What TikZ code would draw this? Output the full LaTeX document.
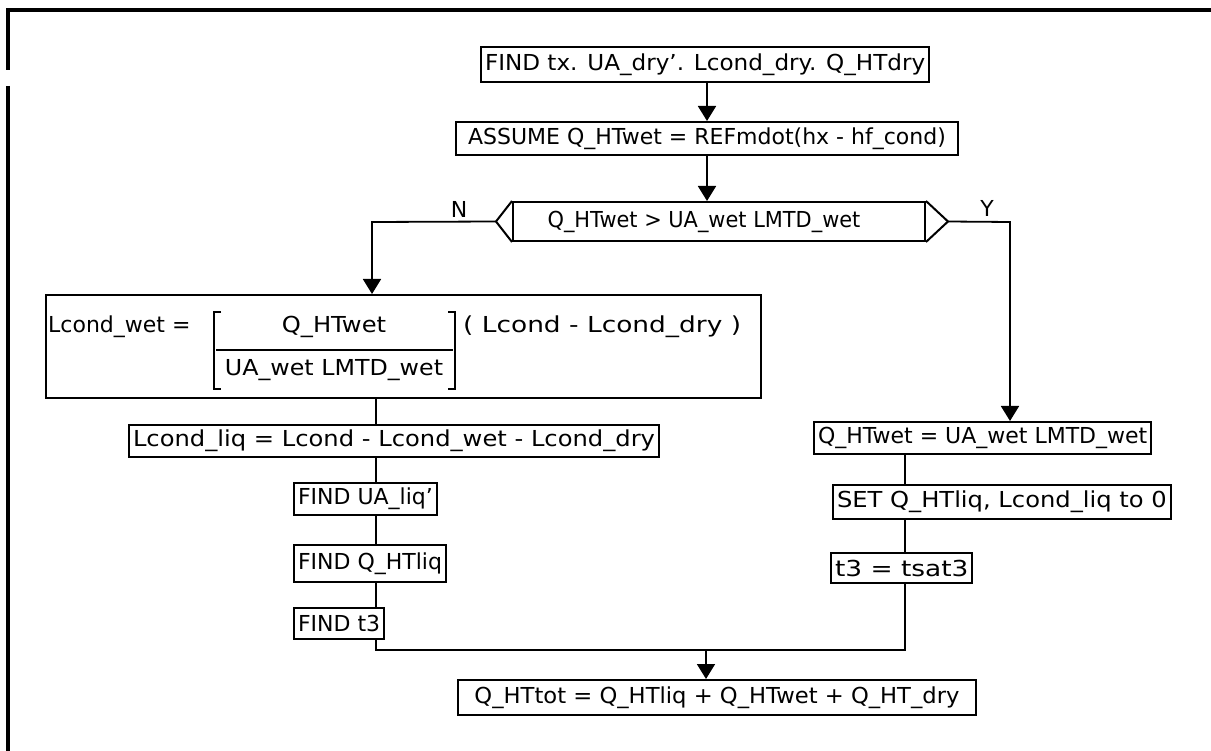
\documentclass[tikz,border=0pt]{standalone}
\usepackage{graphicx}
\usepackage{fontspec}
\setmainfont{DejaVu Sans}
\usetikzlibrary{arrows.meta}
\newcommand{\hsc}[2]{\scalebox{#1}[1]{#2}}
\tikzset{
  txt/.style={font=\fontsize{22}{24}\selectfont},
  box/.style={draw, line width=2pt, inner xsep=4pt, inner ysep=0pt, minimum height=32pt, txt},
  flow/.style={line width=1.8pt},
  arr/.style={flow, -{Triangle[width=18pt,length=15pt]}},
  lbl/.style={txt, inner sep=0pt}
}
\begin{document}
\begin{tikzpicture}[x=1pt,y=-1pt]
\useasboundingbox (0,0) rectangle (1211,751);
% frame
\draw[line width=3.5pt] (1211,10) -- (8,10) -- (8,70);
\draw[line width=3.5pt] (8,86) -- (8,751);

% top boxes
\node[box, anchor=west, minimum height=35pt] (b1) at (480,64.5) {\hsc{1.05}{FIND tx. UA\_dry'. Lcond\_dry. Q\_HTdry}};
\node[box, anchor=west, minimum width=502pt, minimum height=33pt] (b2) at (455,138.5) {ASSUME Q\_HTwet = REFmdot(hx - hf\_cond)};
\node[draw, line width=2pt, minimum width=412pt, minimum height=39pt, inner sep=0pt] (dec) at (719,221.5) {};
\node[lbl] (dectxt) at (704,222) {\hsc{0.95}{Q\_HTwet > UA\_wet LMTD\_wet}};
\coordinate (decL) at ([xshift=-16pt]dec.west);
\coordinate (decR) at ([xshift=22pt]dec.east);
\draw[line width=2pt] (dec.north west) -- (decL) -- (dec.south west);
\draw[line width=2pt] (dec.north east) -- (decR) -- (dec.south east);

\draw[arr] (b2.north |- b1.south) -- (b2.north);
\draw[arr] (b2.south) -- (b2.south |- dec.north);

% N branch
\coordinate (nTurn) at (372,222);
\node[lbl] (nlab) at (459,209) {N};
% box 3
\node[box, anchor=west, minimum width=715pt, minimum height=103pt] (b3) at (45,346.5) {};
\draw[arr] (decL) -- (nTurn) -- (nTurn |- b3.north);
\node[lbl, anchor=west] (lw) at (48,327) {Lcond\_wet =};
\node[lbl] (num) at (334,327) {\hsc{1.1}{Q\_HTwet}};
\node[lbl] (den) at (334,370) {\hsc{1.08}{UA\_wet LMTD\_wet}};
\node[lbl, anchor=west] (rest) at (463,327) {\hsc{1.2}{( Lcond - Lcond\_dry )}};
\draw[flow] (221,312) -- (214,312) -- (214,389) -- (221,389);
\draw[flow] (448,312) -- (455,312) -- (455,389) -- (448,389);
\draw[flow] (216,350) -- (453,350);

% left column
\coordinate (colL) at (376,400);
\node[box, anchor=west] (b4) at (128,441) {\hsc{1.1}{Lcond\_liq = Lcond - Lcond\_wet - Lcond\_dry}};
\node[box, anchor=west] (b5) at (293,499) {FIND UA\_liq'};
\node[box, anchor=west, minimum height=37pt] (b6) at (293,563.5) {FIND Q\_HTliq};
\node[box, anchor=west, minimum height=31pt] (b7) at (293,623) {FIND t3};
\draw[flow] (colL |- b3.south) -- (colL |- b4.north);
\draw[flow] (colL |- b4.south) -- (colL |- b5.north);
\draw[flow] (colL |- b5.south) -- (colL |- b6.north);
\draw[flow] (colL |- b6.south) -- (colL |- b7.north);

% Y branch
\coordinate (yTurn) at (1010,222);
\node[lbl] (ylab) at (987,208) {Y};
\node[box, anchor=west] (r1) at (813,438) {Q\_HTwet = UA\_wet LMTD\_wet};
\node[box, anchor=west, minimum height=34pt] (r2) at (832,501.5) {\hsc{1.1}{SET Q\_HTliq, Lcond\_liq to 0}};
\node[box, anchor=west, minimum height=30pt] (r3) at (830,568) {\hsc{1.2}{t3 = tsat3}};
\draw[arr] (decR) -- (yTurn) -- (yTurn |- r1.north);
\coordinate (colR) at (905,500);
\draw[flow] (colR |- r1.south) -- (colR |- r2.north);
\draw[flow] (colR |- r2.south) -- (colR |- r3.north);

% merge
\coordinate (mL) at (376,650);
\coordinate (mR) at (905,650);
\coordinate (mA) at (706,650);
\node[box, anchor=west, minimum width=518pt, minimum height=35pt] (b8) at (457,697.5) {\hsc{1.03}{Q\_HTtot = Q\_HTliq + Q\_HTwet + Q\_HT\_dry}};
\draw[flow] (colL |- b7.south) -- (mL) -- (mR) -- (mR |- r3.south);
\draw[arr] (mA) -- (mA |- b8.north);
\end{tikzpicture}
\end{document}
